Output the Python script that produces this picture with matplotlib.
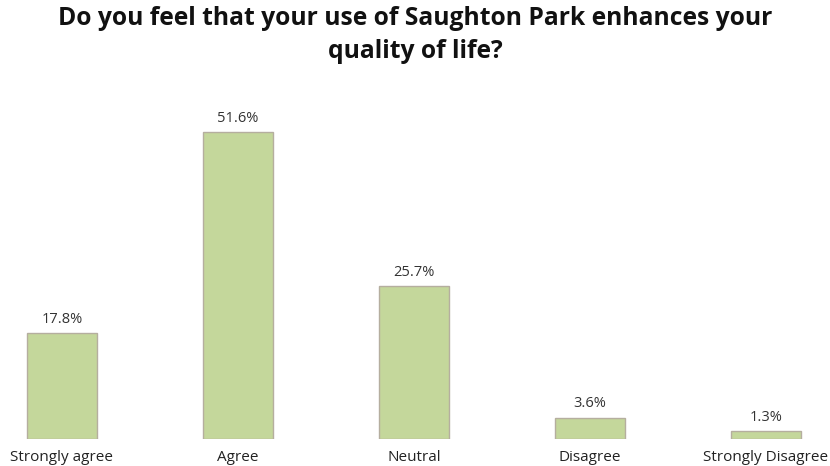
import matplotlib
matplotlib.use("Agg")
import matplotlib.pyplot as plt

categories = ["Strongly agree", "Agree", "Neutral", "Disagree", "Strongly Disagree"]
percentages = [17.8, 51.6, 25.7, 3.6, 1.3]
value_labels = ["17.8%", "51.6%", "25.7%", "3.6%", "1.3%"]
title_lines = ["Do you feel that your use of Saughton Park enhances your", "quality of life?"]

plt.rcParams["font.family"] = ["Open Sans", "DejaVu Sans"]

W, H = 830, 466
fig = plt.figure(figsize=(W / 100, H / 100), dpi=100)
ax = fig.add_axes([0, 27 / H, 1, (439 - 100) / H])

x = range(len(categories))
ax.bar(x, percentages, width=0.4, color="#c4d79b", edgecolor="#b5ae9f", linewidth=1.0)

for xi, v, lab in zip(x, percentages, value_labels):
    ax.annotate(lab, (xi, v), xytext=(0, 4.5), textcoords="offset points",
                ha="center", va="bottom", fontsize=10.5, color="#333333")

ax.set_xlim(-0.352, 4.364)
ax.set_ylim(0, 57)
ax.set_xticks(list(x))
ax.set_xticklabels(categories, fontsize=11, color="#222222")
ax.tick_params(axis="x", length=0, pad=8)
ax.set_yticks([])
for s in ax.spines.values():
    s.set_visible(False)

# two-line title, each line placed on its own baseline
for line, base in zip(title_lines, [25, 58]):
    fig.text(0.5, 1 - base / H, line, ha="center", va="baseline",
             fontsize=17.7, fontweight="bold", color="#111111")

fig.savefig("out.png", dpi=100)
